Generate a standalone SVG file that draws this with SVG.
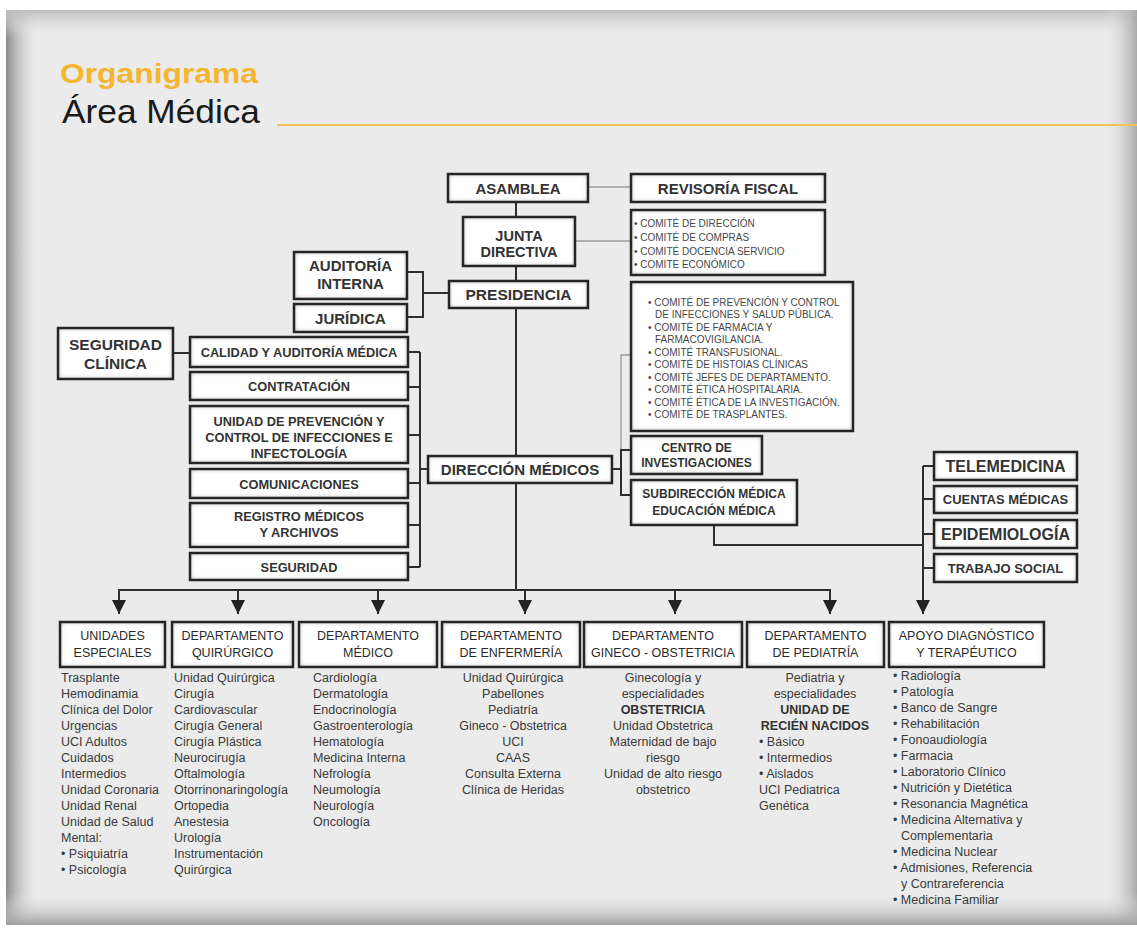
<svg xmlns="http://www.w3.org/2000/svg" width="1137" height="930" viewBox="0 0 1137 930">
<defs>
<linearGradient id="gL" x1="0" y1="0" x2="1" y2="0"><stop offset="0" stop-color="#8a8a8a"/><stop offset="1" stop-color="#ebebeb" stop-opacity="0"/></linearGradient>
<linearGradient id="gT" x1="0" y1="0" x2="0" y2="1"><stop offset="0" stop-color="#bdbdbd"/><stop offset="1" stop-color="#ebebeb" stop-opacity="0"/></linearGradient>
<linearGradient id="gR" x1="0" y1="0" x2="1" y2="0"><stop offset="0" stop-color="#ebebeb" stop-opacity="0"/><stop offset="1" stop-color="#a8a8a8"/></linearGradient>
<linearGradient id="gB" x1="0" y1="0" x2="0" y2="1"><stop offset="0" stop-color="#ebebeb" stop-opacity="0"/><stop offset="1" stop-color="#a0a0a0"/></linearGradient>
<filter id="sh" x="0" y="0" width="1" height="1">
<feGaussianBlur in="SourceAlpha" stdDeviation="2.5" result="b"/>
<feComposite in="SourceAlpha" in2="b" operator="arithmetic" k2="1" k3="-1" result="edge"/>
<feFlood flood-color="#7a7a7a"/>
<feComposite in2="edge" operator="in" result="shade"/>
<feMerge><feMergeNode in="SourceGraphic"/><feMergeNode in="shade"/></feMerge>
</filter>
<marker id="ah" viewBox="0 0 14 14" refX="14" refY="7" markerWidth="14" markerHeight="14" markerUnits="userSpaceOnUse" orient="auto">
<path d="M0,0 L14,7 L0,14 Z" fill="#222"/>
</marker>
<style>
.bg{fill:#fff;filter:url(#sh)}
.bd{fill:none;stroke:#262626;stroke-width:2.5}
.t{font-family:"Liberation Sans",Arial,Helvetica,sans-serif;fill:#333;text-anchor:middle}
.b{font-weight:bold}
.h{font-family:"Liberation Sans",Arial,Helvetica,sans-serif;fill:#2a2a2a;text-anchor:middle;font-size:12.5px}
.cm{font-family:"Liberation Sans",Arial,Helvetica,sans-serif;fill:#474747;font-size:10px}
.li{font-family:"Liberation Sans",Arial,Helvetica,sans-serif;fill:#3a3a3a;font-size:12.5px}
.ln{stroke:#2e2e2e;stroke-width:2;fill:none}
.ar{stroke:#2e2e2e;stroke-width:2;fill:none;marker-end:url(#ah)}
.thin{stroke:#9c9c9c;stroke-width:1.3;fill:none}
</style>
</defs>

<!-- background panel -->
<rect x="0" y="0" width="1137" height="930" fill="#ffffff"/>
<rect x="6" y="10" width="1131" height="915" fill="#ebebeb"/>
<rect x="6" y="10" width="34" height="915" fill="url(#gL)"/>
<rect x="6" y="10" width="1131" height="28" fill="url(#gT)"/>
<rect x="1103" y="10" width="34" height="915" fill="url(#gR)"/>
<rect x="6" y="893" width="1131" height="32" fill="url(#gB)"/>

<!-- title -->
<g id="title">
<text x="60" y="83" font-family="Liberation Sans, Arial, sans-serif" font-weight="bold" font-size="28" fill="#f4b52f" textLength="198" lengthAdjust="spacingAndGlyphs">Organigrama</text>
<text x="62" y="123" font-family="Liberation Sans, Arial, sans-serif" font-size="33" fill="#1a1a1a" textLength="198" lengthAdjust="spacingAndGlyphs">Área Médica</text>
<line x1="277" y1="125" x2="1137" y2="125" stroke="#f1c25a" stroke-width="2"/>
</g>

<!-- connectors -->
<g id="connectors">
<line class="thin" x1="588" y1="187" x2="631" y2="187"/>
<line class="thin" x1="575" y1="241" x2="631" y2="241"/>
<polyline class="thin" points="631,355 621,355 621,450"/>
<line class="ln" x1="516" y1="202" x2="516" y2="217"/>
<line class="ln" x1="516" y1="266" x2="516" y2="281"/>
<line class="ln" x1="516" y1="308" x2="516" y2="456"/>
<line class="ln" x1="516" y1="483" x2="516" y2="590"/>
<polyline class="ln" points="407,272 423,272 423,317 407,317"/>
<line class="ln" x1="423" y1="293" x2="449" y2="293"/>
<line class="ln" x1="173" y1="353" x2="190" y2="353"/>
<line class="ln" x1="420" y1="352" x2="420" y2="567"/>
<line class="ln" x1="408" y1="352" x2="420" y2="352"/>
<line class="ln" x1="408" y1="387" x2="420" y2="387"/>
<line class="ln" x1="408" y1="435" x2="420" y2="435"/>
<line class="ln" x1="408" y1="483" x2="420" y2="483"/>
<line class="ln" x1="408" y1="525" x2="420" y2="525"/>
<line class="ln" x1="408" y1="567" x2="420" y2="567"/>
<line class="ln" x1="420" y1="469" x2="428" y2="469"/>
<line class="ln" x1="612" y1="469" x2="621" y2="469"/>
<polyline class="ln" points="631,450 621,450 621,495 631,495"/>
<polyline class="ln" points="714,525 714,545 923,545"/>
<path class="ar" d="M923,466 L923,614"/>
<line class="ln" x1="923" y1="466" x2="934" y2="466"/>
<line class="ln" x1="923" y1="499" x2="934" y2="499"/>
<line class="ln" x1="923" y1="534" x2="934" y2="534"/>
<line class="ln" x1="923" y1="568" x2="934" y2="568"/>
<line class="ln" x1="119" y1="590" x2="830" y2="590"/>
<path class="ar" d="M119,589 L119,614"/>
<path class="ar" d="M238,590 L238,614"/>
<path class="ar" d="M378,590 L378,614"/>
<path class="ar" d="M525,590 L525,614"/>
<path class="ar" d="M675,590 L675,614"/>
<path class="ar" d="M830,589 L830,614"/>
</g>

<!-- top nodes -->
<g id="asamblea"><rect class="bg" x="448" y="174" width="140" height="28"/><rect class="bd" x="448" y="174" width="140" height="28"/>
<text class="t b" x="518" y="193.5" font-size="15">ASAMBLEA</text></g>
<g id="revisoria"><rect class="bg" x="631" y="174" width="194" height="28"/><rect class="bd" x="631" y="174" width="194" height="28"/>
<text class="t b" x="728" y="193.5" font-size="15">REVISORÍA FISCAL</text></g>
<g id="junta"><rect class="bg" x="463" y="217" width="112" height="49"/><rect class="bd" x="463" y="217" width="112" height="49"/>
<text class="t b" x="519" y="241" font-size="14.5">JUNTA</text><text class="t b" x="519" y="257" font-size="14.5">DIRECTIVA</text></g>
<g id="presidencia"><rect class="bg" x="449" y="281" width="139" height="27"/><rect class="bd" x="449" y="281" width="139" height="27"/>
<text class="t b" x="518.5" y="300" font-size="15.5">PRESIDENCIA</text></g>
<g id="comites1"><rect class="bg" x="631" y="210" width="194" height="65"/><rect class="bd" x="631" y="210" width="194" height="65"/>
<text class="cm" x="634" y="226.5" font-size="10.5">• COMITÉ DE DIRECCIÓN</text>
<text class="cm" x="634" y="240.5" font-size="10.5">• COMITÉ DE COMPRAS</text>
<text class="cm" x="634" y="254.5" font-size="10.5">• COMITÉ DOCENCIA SERVICIO</text>
<text class="cm" x="634" y="268" font-size="10.5">• COMITE ECONÓMICO</text></g>
<g id="comites2"><rect class="bg" x="631" y="282" width="222" height="149"/><rect class="bd" x="631" y="282" width="222" height="149"/>
<text class="cm" x="648" y="305.5">• COMITÉ DE PREVENCIÓN Y CONTROL</text>
<text class="cm" x="655" y="318">DE INFECCIONES Y SALUD PÚBLICA.</text>
<text class="cm" x="648" y="330.5">• COMITÉ DE FARMACIA Y</text>
<text class="cm" x="655" y="343">FARMACOVIGILANCIA.</text>
<text class="cm" x="648" y="355.5">• COMITÉ TRANSFUSIONAL.</text>
<text class="cm" x="648" y="368">• COMITÉ DE HISTOIAS CLÍNICAS</text>
<text class="cm" x="648" y="380.5">• COMITÉ JEFES DE DEPARTAMENTO.</text>
<text class="cm" x="648" y="393">• COMITÉ ÉTICA HOSPITALARIA.</text>
<text class="cm" x="648" y="405.5">• COMITÉ ÉTICA DE LA INVESTIGACIÓN.</text>
<text class="cm" x="648" y="418">• COMITÉ DE TRASPLANTES.</text></g>
<g id="auditoria"><rect class="bg" x="294" y="252" width="113" height="47"/><rect class="bd" x="294" y="252" width="113" height="47"/>
<text class="t b" x="350.5" y="271" font-size="15">AUDITORÍA</text><text class="t b" x="350.5" y="289" font-size="15">INTERNA</text></g>
<g id="juridica"><rect class="bg" x="294" y="304" width="113" height="28"/><rect class="bd" x="294" y="304" width="113" height="28"/>
<text class="t b" x="350.5" y="323.5" font-size="15">JURÍDICA</text></g>

<!-- left column -->
<g id="seguridad-clinica"><rect class="bg" x="58" y="328" width="115" height="51"/><rect class="bd" x="58" y="328" width="115" height="51"/>
<text class="t b" x="115.5" y="350" font-size="15.5">SEGURIDAD</text><text class="t b" x="115.5" y="369" font-size="15.5">CLÍNICA</text></g>
<g id="calidad"><rect class="bg" x="190" y="337" width="218" height="30"/><rect class="bd" x="190" y="337" width="218" height="30"/>
<text class="t b" x="299" y="357" font-size="12.8">CALIDAD Y AUDITORÍA MÉDICA</text></g>
<g id="contratacion"><rect class="bg" x="190" y="372" width="218" height="28"/><rect class="bd" x="190" y="372" width="218" height="28"/>
<text class="t b" x="299" y="391" font-size="12.8">CONTRATACIÓN</text></g>
<g id="unidad-prevencion"><rect class="bg" x="190" y="406" width="218" height="57"/><rect class="bd" x="190" y="406" width="218" height="57"/>
<text class="t b" x="299" y="426" font-size="12.8">UNIDAD DE PREVENCIÓN Y</text>
<text class="t b" x="299" y="442" font-size="12.8">CONTROL DE INFECCIONES E</text>
<text class="t b" x="299" y="458" font-size="12.8">INFECTOLOGÍA</text></g>
<g id="comunicaciones"><rect class="bg" x="190" y="469" width="218" height="29"/><rect class="bd" x="190" y="469" width="218" height="29"/>
<text class="t b" x="299" y="488.5" font-size="12.8">COMUNICACIONES</text></g>
<g id="registro"><rect class="bg" x="190" y="503" width="218" height="44"/><rect class="bd" x="190" y="503" width="218" height="44"/>
<text class="t b" x="299" y="521" font-size="12.8">REGISTRO MÉDICOS</text><text class="t b" x="299" y="537" font-size="12.8">Y ARCHIVOS</text></g>
<g id="seguridad"><rect class="bg" x="190" y="553" width="218" height="27"/><rect class="bd" x="190" y="553" width="218" height="27"/>
<text class="t b" x="299" y="571.5" font-size="12.8">SEGURIDAD</text></g>

<!-- middle -->
<g id="direccion"><rect class="bg" x="428" y="456" width="184" height="27"/><rect class="bd" x="428" y="456" width="184" height="27"/>
<text class="t b" x="520" y="475" font-size="15">DIRECCIÓN MÉDICOS</text></g>
<g id="centro"><rect class="bg" x="631" y="436" width="131" height="38"/><rect class="bd" x="631" y="436" width="131" height="38"/>
<text class="t b" x="696.5" y="452" font-size="12">CENTRO DE</text><text class="t b" x="696.5" y="467" font-size="12">INVESTIGACIONES</text></g>
<g id="subdireccion"><rect class="bg" x="631" y="480" width="166" height="45"/><rect class="bd" x="631" y="480" width="166" height="45"/>
<text class="t b" x="714" y="497.5" font-size="12">SUBDIRECCIÓN MÉDICA</text><text class="t b" x="714" y="515" font-size="12">EDUCACIÓN MÉDICA</text></g>

<!-- right column -->
<g id="telemedicina"><rect class="bg" x="934" y="452" width="143" height="28"/><rect class="bd" x="934" y="452" width="143" height="28"/>
<text class="t b" x="1005.5" y="472" font-size="16">TELEMEDICINA</text></g>
<g id="cuentas"><rect class="bg" x="934" y="486" width="143" height="27"/><rect class="bd" x="934" y="486" width="143" height="27"/>
<text class="t b" x="1005.5" y="504" font-size="13">CUENTAS MÉDICAS</text></g>
<g id="epidemiologia"><rect class="bg" x="934" y="520" width="143" height="28"/><rect class="bd" x="934" y="520" width="143" height="28"/>
<text class="t b" x="1005.5" y="540" font-size="16">EPIDEMIOLOGÍA</text></g>
<g id="trabajo-social"><rect class="bg" x="934" y="554" width="143" height="28"/><rect class="bd" x="934" y="554" width="143" height="28"/>
<text class="t b" x="1005.5" y="573" font-size="13">TRABAJO SOCIAL</text></g>

<!-- bottom departments -->
<g id="unidades-especiales"><rect class="bg" x="60" y="622" width="105" height="45"/><rect class="bd" x="60" y="622" width="105" height="45"/>
<text class="h" x="112.5" y="640">UNIDADES</text><text class="h" x="112.5" y="657">ESPECIALES</text>
<text class="li" x="61" y="682">Trasplante</text>
<text class="li" x="61" y="698">Hemodinamia</text>
<text class="li" x="61" y="714">Clínica del Dolor</text>
<text class="li" x="61" y="730">Urgencias</text>
<text class="li" x="61" y="746">UCI Adultos</text>
<text class="li" x="61" y="762">Cuidados</text>
<text class="li" x="61" y="778">Intermedios</text>
<text class="li" x="61" y="794">Unidad Coronaria</text>
<text class="li" x="61" y="810">Unidad Renal</text>
<text class="li" x="61" y="826">Unidad de Salud</text>
<text class="li" x="61" y="842">Mental:</text>
<text class="li" x="61" y="858">• Psiquiatría</text>
<text class="li" x="61" y="874">• Psicología</text></g>

<g id="dep-quirurgico"><rect class="bg" x="172" y="622" width="121" height="45"/><rect class="bd" x="172" y="622" width="121" height="45"/>
<text class="h" x="232.5" y="640">DEPARTAMENTO</text><text class="h" x="232.5" y="657">QUIRÚRGICO</text>
<text class="li" x="174" y="682">Unidad Quirúrgica</text>
<text class="li" x="174" y="698">Cirugía</text>
<text class="li" x="174" y="714">Cardiovascular</text>
<text class="li" x="174" y="730">Cirugía General</text>
<text class="li" x="174" y="746">Cirugía Plástica</text>
<text class="li" x="174" y="762">Neurocirugía</text>
<text class="li" x="174" y="778">Oftalmología</text>
<text class="li" x="174" y="794">Otorrinonaringología</text>
<text class="li" x="174" y="810">Ortopedia</text>
<text class="li" x="174" y="826">Anestesia</text>
<text class="li" x="174" y="842">Urología</text>
<text class="li" x="174" y="858">Instrumentación</text>
<text class="li" x="174" y="874">Quirúrgica</text></g>

<g id="dep-medico"><rect class="bg" x="299" y="622" width="138" height="45"/><rect class="bd" x="299" y="622" width="138" height="45"/>
<text class="h" x="368" y="640">DEPARTAMENTO</text><text class="h" x="368" y="657">MÉDICO</text>
<text class="li" x="313" y="682">Cardiología</text>
<text class="li" x="313" y="698">Dermatología</text>
<text class="li" x="313" y="714">Endocrinología</text>
<text class="li" x="313" y="730">Gastroenterología</text>
<text class="li" x="313" y="746">Hematología</text>
<text class="li" x="313" y="762">Medicina Interna</text>
<text class="li" x="313" y="778">Nefrología</text>
<text class="li" x="313" y="794">Neumología</text>
<text class="li" x="313" y="810">Neurología</text>
<text class="li" x="313" y="826">Oncología</text></g>

<g id="dep-enfermeria"><rect class="bg" x="442" y="622" width="138" height="45"/><rect class="bd" x="442" y="622" width="138" height="45"/>
<text class="h" x="511" y="640">DEPARTAMENTO</text><text class="h" x="511" y="657">DE ENFERMERÍA</text>
<g class="li" text-anchor="middle">
<text x="513" y="682">Unidad Quirúrgica</text>
<text x="513" y="698">Pabellones</text>
<text x="513" y="714">Pediatría</text>
<text x="513" y="730">Gineco - Obstetrica</text>
<text x="513" y="746">UCI</text>
<text x="513" y="762">CAAS</text>
<text x="513" y="778">Consulta Externa</text>
<text x="513" y="794">Clínica de Heridas</text></g></g>

<g id="dep-gineco"><rect class="bg" x="584" y="622" width="158" height="45"/><rect class="bd" x="584" y="622" width="158" height="45"/>
<text class="h" x="663" y="640">DEPARTAMENTO</text><text class="h" x="663" y="657">GINECO - OBSTETRICIA</text>
<g class="li" text-anchor="middle">
<text x="663" y="682">Ginecología y</text>
<text x="663" y="698">especialidades</text>
<text x="663" y="714" font-weight="bold" fill="#333">OBSTETRICIA</text>
<text x="663" y="730">Unidad Obstetrica</text>
<text x="663" y="746">Maternidad de bajo</text>
<text x="663" y="762">riesgo</text>
<text x="663" y="778">Unidad de alto riesgo</text>
<text x="663" y="794">obstetrico</text></g></g>

<g id="dep-pediatria"><rect class="bg" x="747" y="622" width="137" height="45"/><rect class="bd" x="747" y="622" width="137" height="45"/>
<text class="h" x="815.5" y="640">DEPARTAMENTO</text><text class="h" x="815.5" y="657">DE PEDIATRÍA</text>
<g class="li" text-anchor="middle">
<text x="815" y="682">Pediatria y</text>
<text x="815" y="698">especialidades</text>
<text x="815" y="714" font-weight="bold" fill="#333">UNIDAD DE</text>
<text x="815" y="730" font-weight="bold" fill="#333">RECIÉN NACIDOS</text></g>
<text class="li" x="759" y="746">• Básico</text>
<text class="li" x="759" y="762">• Intermedios</text>
<text class="li" x="759" y="778">• Aislados</text>
<text class="li" x="759" y="794">UCI Pediatrica</text>
<text class="li" x="759" y="810">Genética</text></g>

<g id="apoyo"><rect class="bg" x="889" y="622" width="155" height="45"/><rect class="bd" x="889" y="622" width="155" height="45"/>
<text class="h" x="966.5" y="640">APOYO DIAGNÓSTICO</text><text class="h" x="966.5" y="657">Y TERAPÉUTICO</text>
<text class="li" x="893" y="680">• Radiología</text>
<text class="li" x="893" y="696">• Patología</text>
<text class="li" x="893" y="712">• Banco de Sangre</text>
<text class="li" x="893" y="728">• Rehabilitación</text>
<text class="li" x="893" y="744">• Fonoaudiología</text>
<text class="li" x="893" y="760">• Farmacia</text>
<text class="li" x="893" y="776">• Laboratorio Clínico</text>
<text class="li" x="893" y="792">• Nutrición y Dietética</text>
<text class="li" x="893" y="808">• Resonancia Magnética</text>
<text class="li" x="893" y="824">• Medicina Alternativa y</text>
<text class="li" x="901" y="840">Complementaria</text>
<text class="li" x="893" y="856">• Medicina Nuclear</text>
<text class="li" x="893" y="872">• Admisiones, Referencia</text>
<text class="li" x="901" y="888">y Contrareferencia</text>
<text class="li" x="893" y="904">• Medicina Familiar</text></g>
</svg>
